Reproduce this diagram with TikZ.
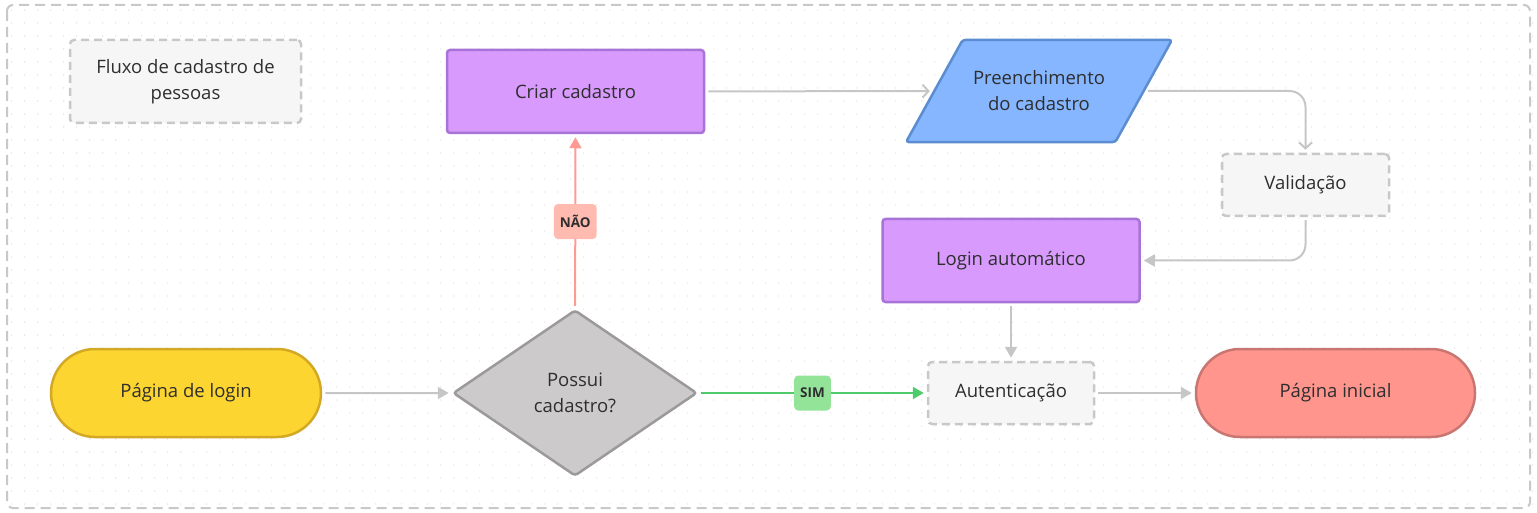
\documentclass[tikz,border=0pt]{standalone}
\usepackage{fontspec}
\setsansfont{Open Sans}
\usetikzlibrary{arrows.meta, shapes.geometric, shapes.misc}
\definecolor{txt}{HTML}{2E2E2E}
\definecolor{dotgray}{HTML}{D6D6D6}
\definecolor{dashgray}{HTML}{C8C8C8}
\definecolor{linegray}{HTML}{C6C6C6}
\definecolor{notefill}{HTML}{F6F6F6}
\definecolor{purplefill}{HTML}{D89BFD}
\definecolor{purpledraw}{HTML}{A873D6}
\definecolor{bluefill}{HTML}{85B6FF}
\definecolor{bluedraw}{HTML}{5C8DD0}
\definecolor{yellowfill}{HTML}{FDD530}
\definecolor{yellowdraw}{HTML}{D2A824}
\definecolor{redfill}{HTML}{FF958D}
\definecolor{reddraw}{HTML}{C97571}
\definecolor{diamfill}{HTML}{CDCACB}
\definecolor{diamdraw}{HTML}{9B999A}
\definecolor{naoline}{HTML}{FF9A92}
\definecolor{naofill}{HTML}{FFBBB0}
\definecolor{simline}{HTML}{4FCB6A}
\definecolor{simfill}{HTML}{93E499}

\begin{document}
\begin{tikzpicture}[x=1pt, y=-1pt, line width=2pt, font=\sffamily\fontsize{18.5}{26}\selectfont, text=txt]
    \tikzstyle{block}=[rectangle, rounded corners=3pt, line width=2.5pt, minimum width=257pt, minimum height=83pt, inner sep=0pt, align=center]
    \tikzstyle{note}=[rectangle, rounded corners=4pt, draw=dashgray, fill=notefill, dash pattern=on 8pt off 5pt, line width=2.5pt, inner sep=0pt, align=center]
    \tikzstyle{term}=[rounded rectangle, line width=2.5pt, minimum height=88pt, inner sep=0pt, align=center]
    \tikzstyle{link}=[draw=linegray, line width=2pt, -{Triangle[length=11pt,width=12pt]}, shorten <=3pt, shorten >=3pt]
    \tikzstyle{openlink}=[draw=linegray, line width=2pt, -{Straight Barb[length=6pt,width=13pt]}, shorten <=3pt, shorten >=3pt]
    \tikzstyle{tag}=[rectangle, rounded corners=4pt, font=\sffamily\bfseries\fontsize{13.5}{15}\selectfont, minimum height=35pt, inner xsep=6pt, text=txt]

    \useasboundingbox (0,0) rectangle (1537,513);
    % dotted canvas
    \foreach \x in {-1.3,11.7,...,1537} {
        \foreach \y in {10,23,...,513} {
            \fill[dotgray] (\x,\y) circle (0.7);
        }
    }
    \draw[dashgray, dash pattern=on 10pt off 6pt, line width=2pt, rounded corners=6pt] (7,5) rectangle (1530,508);

    \node[note, minimum width=231pt, minimum height=83pt] (title) at (185.5,81.5) {Fluxo de cadastro de\\pessoas};
    \node[block, draw=purpledraw, fill=purplefill] (criar) at (575.5,91.5) {Criar cadastro};
    \node[trapezium, trapezium left angle=61, trapezium right angle=119, trapezium stretches body, minimum width=266pt, inner xsep=10pt, inner ysep=31pt, line width=2.5pt, rounded corners=3pt, draw=bluedraw, fill=bluefill, align=center] (preench) at (1039,91) {Preenchimento\\do cadastro};
    \node[note, minimum width=167pt, minimum height=62pt] (valid) at (1305.5,185) {Validação};
    \node[block, draw=purpledraw, fill=purplefill] (autologin) at (1011,260.5) {Login automático};

    \node[term, minimum width=270pt, draw=yellowdraw, fill=yellowfill] (login) at (186,393) {Página de login};
    \node[diamond, minimum width=244pt, minimum height=166pt, shape aspect=1.47, inner sep=0pt, line width=2.5pt, rounded corners=3pt, draw=diamdraw, fill=diamfill, align=center] (possui) at (575,393) {Possui\\cadastro?};
    \node[note, minimum width=166pt, minimum height=62pt] (autent) at (1011,393) {Autenticação};
    \node[term, minimum width=279pt, draw=reddraw, fill=redfill] (inicial) at (1335.5,393) {Página inicial};

    \draw[link] (login) -- (possui);
    \draw[link, draw=naoline] (possui) -- node[tag, fill=naofill] {NÃO} (criar);
    \draw[link, draw=simline] (possui) -- node[tag, fill=simfill] {SIM} (autent);
    \draw[openlink] (criar) -- (preench);
    \draw[openlink, rounded corners=16pt] (preench) -| (valid);
    \draw[link, rounded corners=16pt] (valid) |- (autologin);
    \draw[link] (autologin) -- (autent);
    \draw[link] (autent) -- (inicial);
\end{tikzpicture}
\end{document}
